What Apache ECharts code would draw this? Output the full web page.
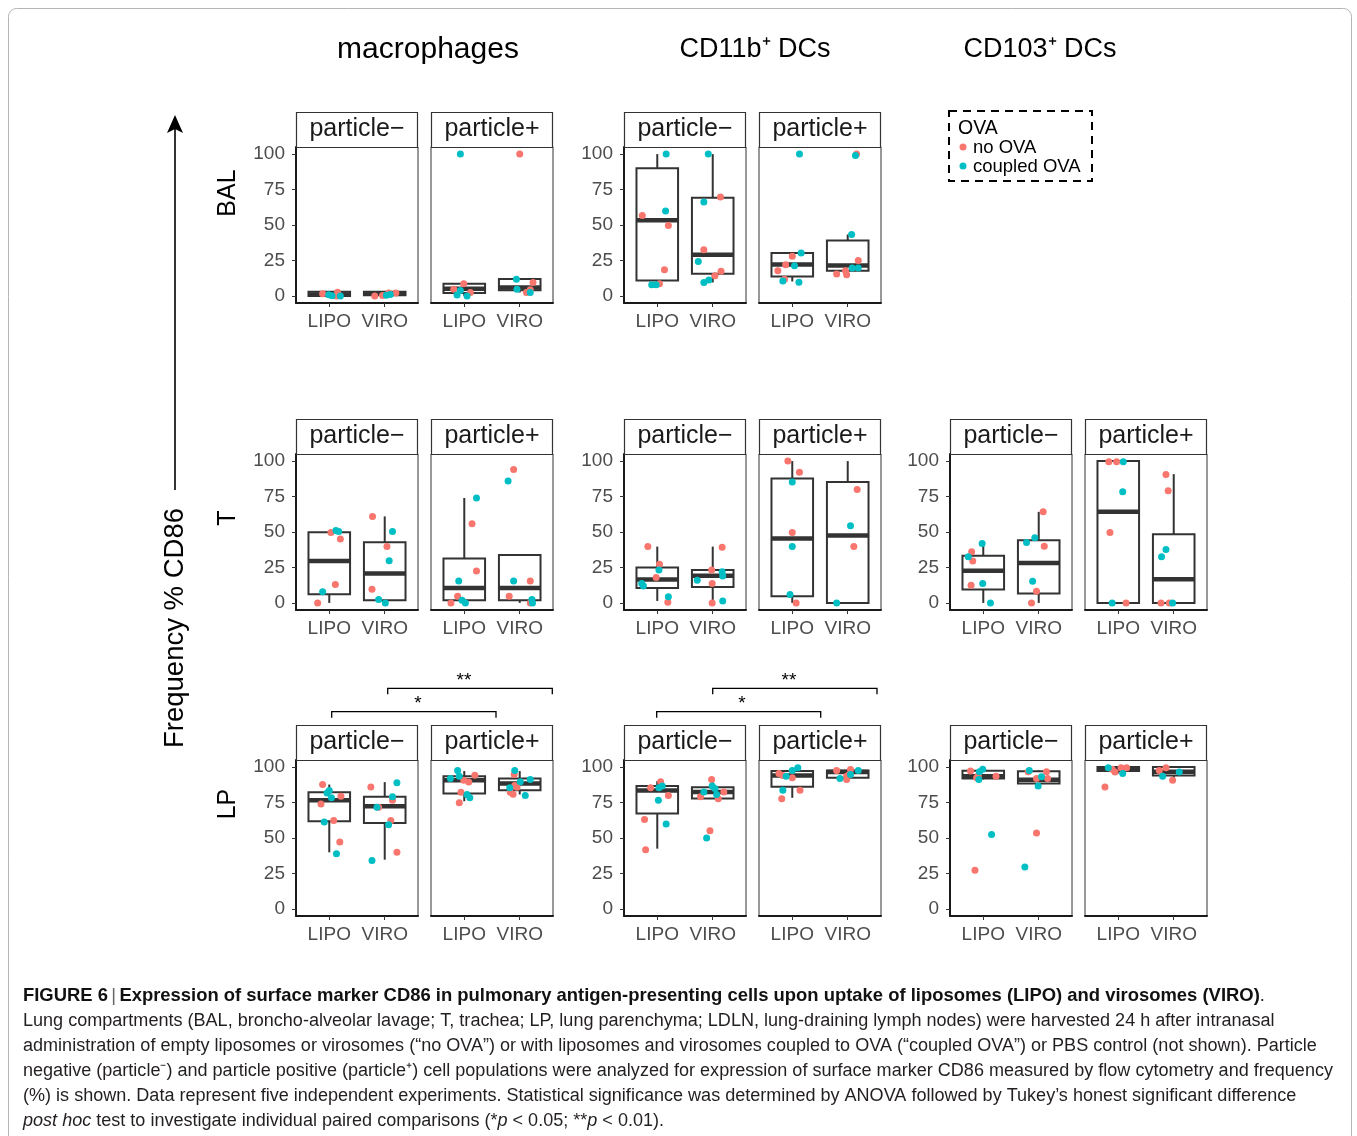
<!DOCTYPE html>
<html><head><meta charset="utf-8">
<script src="https://cdn.jsdelivr.net/npm/echarts@6/dist/echarts.min.js"></script>
<style>html,body{margin:0;padding:0;background:#fff}#c{width:1357px;height:1136px}</style>
</head><body><div id="c"></div>
<script>
// ---------- categories / labels ----------
const categories = ['LIPO', 'VIRO'];
const cellTypes = ['macrophages', 'CD11b\u207A DCs', 'CD103\u207A DCs'];
const compartments = ['BAL', 'T', 'LP'];
const particleLabels = ['particle\u2212', 'particle+'];
const yTicks = [0, 25, 50, 75, 100];
const legendTitle = 'OVA';
const legendNames = ['no OVA', 'coupled OVA'];

// ---------- data: box = [position, min, q1, median, q3, max]; points = [jittered position, value] ----------
// BAL
const balMacNegBox = [[1, 0, 0, 1, 3, 3], [2, 0, 0.5, 1.5, 3, 3]];
const balMacNegNo = [[0.88, 1.5], [1.15, 2.6], [1.13, 0], [1.82, 0], [1.96, 0.3], [2.07, 2], [2.2, 2]];
const balMacNegCoupled = [[0.99, 0.8], [1.05, 0.2], [1.2, 0], [2.03, 0.4], [2.1, 1]];
const balMacPosBox = [[1, 0, 2, 5, 8.5, 8.5], [2, 2.4, 4, 6, 12, 12]];
const balMacPosNo = [[0.81, 4.7], [0.99, 8.5], [1.11, 2.4], [2.0, 100], [2.24, 9.5], [2.12, 2.4], [2.19, 4.3]];
const balMacPosCoupled = [[0.93, 100], [0.87, 0.7], [0.93, 3.8], [1.05, 0], [1.94, 11.8], [1.95, 4.7], [2.19, 2.4]];
const balCd11bNegBox = [[1, 7.8, 10.9, 53.4, 90, 100], [2, 9.5, 15.6, 29.1, 69.3, 100]];
const balCd11bNegNo = [[0.73, 56.7], [1.2, 49.6], [1.13, 18.4], [1.04, 8.5], [2.14, 69.7], [1.84, 32.6], [2.15, 17.3], [2.04, 14.2]];
const balCd11bNegCoupled = [[1.16, 100], [1.15, 59.8], [0.9, 7.8], [0.98, 7.8], [1.92, 100], [1.84, 66.2], [1.74, 24.3], [1.93, 11.3], [1.84, 9.5]];
const balCd11bPosBox = [[1, 10.2, 13.7, 22.2, 30.3, 30.3], [2, 14.9, 17.7, 21.5, 39, 43.3]];
const balCd11bPosNo = [[1.0, 27.9], [0.88, 22], [0.74, 17.7], [0.86, 11.8], [2.16, 100], [2.19, 25], [1.8, 15.4], [1.98, 14.9], [1.96, 17.7]];
const balCd11bPosCoupled = [[1.13, 100], [1.16, 30.3], [1.04, 21.3], [0.83, 10.6], [1.12, 9.7], [2.14, 99], [2.07, 43.3], [2.08, 19.6], [2.19, 19.6]];
// T
const tMacNegBox = [[1, 0, 6.1, 29.6, 49.9, 50.4], [2, 0, 1.9, 20.8, 42.8, 61]];
const tMacNegNo = [[0.79, 0], [1.11, 13], [1.03, 49.6], [1.2, 45], [1.78, 61], [2.04, 39.7], [1.77, 9.7]];
const tMacNegCoupled = [[0.88, 7.8], [1.12, 51], [1.17, 50.4], [2.14, 50.4], [2.08, 29.8], [1.89, 2.4], [2.01, 0]];
const tMacPosBox = [[1, 0, 1.9, 10.6, 31.4, 74], [2, 0, 1.9, 10.6, 33.8, 33.8]];
const tMacPosNo = [[1.14, 55.8], [1.22, 22.5], [0.88, 4.7], [0.76, 0], [1.89, 94], [2.19, 15.4], [1.81, 4.7], [2.19, 0]];
const tMacPosCoupled = [[1.22, 74], [0.9, 15.4], [0.96, 1.9], [1.02, 0], [1.79, 86], [1.89, 15.4], [2.22, 2.4], [2.23, 0]];
const tCd11bNegBox = [[1, 1.4, 10.6, 16.5, 25, 39.7], [2, 0, 11.3, 19.1, 23.2, 39.7]];
const tCd11bNegNo = [[0.83, 39.7], [1.04, 27.2], [0.98, 18], [1.19, 0.5], [2.17, 39.2], [1.98, 23.2], [1.99, 13.7], [1.99, 0]];
const tCd11bNegCoupled = [[1.03, 23.2], [0.72, 13.7], [0.75, 12], [1.2, 4.3], [2.17, 22], [2.18, 18.9], [1.72, 16], [2.18, 1.4]];
const tCd11bPosBox = [[1, 0, 4.7, 45.4, 87.7, 100], [2, 0, 0, 47.5, 85.3, 100]];
const tCd11bPosNo = [[0.92, 100], [1.13, 92.2], [1.0, 49.6], [1.07, 0], [2.17, 79.9], [2.11, 39.7]];
const tCd11bPosCoupled = [[1.0, 85.3], [1.0, 39.7], [0.96, 5.9], [2.05, 54.4], [1.8, 0]];
const tCd103NegBox = [[1, 0, 9.4, 22.6, 33.2, 41.9], [2, 0, 6.6, 28.2, 44.2, 64.2]];
const tCd103NegNo = [[0.79, 36], [0.81, 29.6], [0.78, 12.5], [2.08, 64.2], [2.1, 40], [1.96, 8.2], [1.87, 0]];
const tCd103NegCoupled = [[0.98, 41.9], [0.73, 32.5], [0.99, 13.6], [1.13, 0], [1.93, 46], [1.78, 42.6], [1.89, 15.3]];
const tCd103PosBox = [[1, 0, 0, 64.2, 100, 100], [2, 0, 0, 16.7, 48.5, 90.8]];
const tCd103PosNo = [[0.83, 99.5], [0.97, 99.5], [0.85, 49.6], [1.14, 0], [1.86, 90.6], [1.9, 79], [1.77, 0], [1.92, 0]];
const tCd103PosCoupled = [[1.09, 99.5], [1.08, 78.4], [0.89, 0], [1.86, 37.6], [1.78, 32.5], [1.98, 0]];
// LP
const lpMacNegBox = [[1, 39.9, 61.8, 76.7, 82.3, 87.7], [2, 34.7, 60.6, 72.4, 79, 89.4]];
const lpMacNegNo = [[0.88, 87.7], [1.21, 79.5], [0.85, 74], [1.08, 62.3], [1.19, 47.2], [1.75, 86], [2.14, 76.7], [1.89, 71.7], [2.11, 62.3], [2.22, 39.9]];
const lpMacNegCoupled = [[1.0, 83.5], [0.96, 81.8], [1.04, 78.3], [0.91, 61.3], [1.13, 38.9], [2.22, 88.9], [2.14, 79], [1.86, 71.7], [2.07, 59.4], [1.77, 34.2]];
const lpMacPosBox = [[1, 75.9, 81.4, 90.8, 93.6, 97.2], [2, 80.7, 83.7, 88.4, 92, 97.2]];
const lpMacPosNo = [[1.19, 94.3], [0.99, 90.8], [1.08, 89.4], [0.94, 82.3], [0.91, 74.8], [1.9, 94.8], [1.91, 87], [1.95, 85.8], [1.83, 82.3], [1.88, 80.9]];
const lpMacPosCoupled = [[0.88, 97.6], [0.91, 93.6], [0.75, 92], [1.05, 80.7], [1.1, 78.3], [1.91, 97.6], [2.19, 91.3], [2.01, 89.6], [1.82, 85.4], [2.1, 80]];
const lpCd11bNegBox = [[1, 42.5, 67.2, 83.5, 86.6, 90.1], [2, 77.6, 77.8, 82.5, 85.8, 91.3]];
const lpCd11bNegNo = [[1.06, 89.6], [0.88, 85.4], [1.2, 80], [0.77, 63], [0.79, 41.7], [1.98, 91.3], [2.2, 82.5], [1.78, 79], [2.1, 77.6], [1.95, 55.2]];
const lpCd11bNegCoupled = [[1.09, 86.6], [1.03, 85.4], [1.02, 76.7], [1.16, 59.9], [1.99, 86.6], [2.04, 84.9], [1.84, 82.5], [2.07, 80.7], [1.89, 50]];
const lpCd11bPosBox = [[1, 78.3, 86.1, 94.1, 97.2, 99.5], [2, 91.3, 92.5, 96.5, 97.6, 98.3]];
const lpCd11bPosNo = [[0.76, 95.5], [0.83, 94.1], [1.0, 92.5], [1.14, 83.7], [0.81, 77.6], [1.8, 97.6], [2.05, 98.3], [1.98, 93.6], [1.98, 91.3], [2.02, 94.5]];
const lpCd11bPosCoupled = [[1.1, 99.5], [1.0, 97.6], [0.89, 93.6], [0.83, 83.7], [2.19, 97.6], [1.86, 92], [2.05, 94.8]];
const lpCd103NegBox = [[1, 91.3, 92, 93.5, 97.5, 98.4], [2, 86.6, 88.5, 91, 97, 97.6]];
const lpCd103NegNo = [[0.77, 97.2], [0.91, 94.1], [0.88, 92.5], [1.23, 93.6], [0.85, 27.3], [1.81, 96.7], [2.14, 96.7], [1.96, 92], [2.16, 92], [1.96, 53.6]];
const lpCd103NegCoupled = [[0.99, 98.4], [0.93, 96.7], [0.92, 91.3], [1.15, 52.5], [1.83, 97.6], [2.05, 93.2], [1.99, 86.6], [1.75, 29.6]];
const lpCd103PosBox = [[1, 95.5, 97.2, 99, 100, 100], [2, 90.8, 94.1, 96.7, 100, 100]];
const lpCd103PosNo = [[1.05, 99.5], [1.15, 99.5], [0.89, 98.4], [0.94, 96.5], [0.76, 85.9], [1.86, 99.5], [1.74, 97.6], [1.98, 90.8]];
const lpCd103PosCoupled = [[0.82, 99.5], [1.08, 95.5], [2.1, 96.5], [1.8, 93.6]];

// significance annotations
const sigLabels = ['*', '**'];

// caption
const captionBoldA = 'FIGURE 6';
const captionBoldB = 'Expression of surface marker CD86 in pulmonary antigen-presenting cells upon uptake of liposomes (LIPO) and virosomes (VIRO)';
const captionLines = [
  'Lung compartments (BAL, broncho-alveolar lavage; T, trachea; LP, lung parenchyma; LDLN, lung-draining lymph nodes) were harvested 24 h after intranasal',
  'administration of empty liposomes or virosomes (\u201Cno OVA\u201D) or with liposomes and virosomes coupled to OVA (\u201Ccoupled OVA\u201D) or PBS control (not shown). Particle',
  'negative (particle\u207B) and particle positive (particle\u207A) cell populations were analyzed for expression of surface marker CD86 measured by flow cytometry and frequency',
  '(%) is shown. Data represent five independent experiments. Statistical significance was determined by ANOVA followed by Tukey\u2019s honest significant difference'
];

// ---------- layout ----------
const FONT = '"Liberation Sans", Arial, Helvetica, sans-serif';
const RED = '#F8766D', TEAL = '#00BFC4', LINE = '#333333';
const PANEL_W = 122, PANEL_H = 156, STRIP_H = 35;
const colLeft = [296, 431, 624, 759, 950, 1085];
const rowTop = [147, 454, 760];

const panels = [
  [0, 0, balMacNegBox, balMacNegNo, balMacNegCoupled],
  [0, 1, balMacPosBox, balMacPosNo, balMacPosCoupled],
  [0, 2, balCd11bNegBox, balCd11bNegNo, balCd11bNegCoupled],
  [0, 3, balCd11bPosBox, balCd11bPosNo, balCd11bPosCoupled],
  [1, 0, tMacNegBox, tMacNegNo, tMacNegCoupled],
  [1, 1, tMacPosBox, tMacPosNo, tMacPosCoupled],
  [1, 2, tCd11bNegBox, tCd11bNegNo, tCd11bNegCoupled],
  [1, 3, tCd11bPosBox, tCd11bPosNo, tCd11bPosCoupled],
  [1, 4, tCd103NegBox, tCd103NegNo, tCd103NegCoupled],
  [1, 5, tCd103PosBox, tCd103PosNo, tCd103PosCoupled],
  [2, 0, lpMacNegBox, lpMacNegNo, lpMacNegCoupled],
  [2, 1, lpMacPosBox, lpMacPosNo, lpMacPosCoupled],
  [2, 2, lpCd11bNegBox, lpCd11bNegNo, lpCd11bNegCoupled],
  [2, 3, lpCd11bPosBox, lpCd11bPosNo, lpCd11bPosCoupled],
  [2, 4, lpCd103NegBox, lpCd103NegNo, lpCd103NegCoupled],
  [2, 5, lpCd103PosBox, lpCd103PosNo, lpCd103PosCoupled]
];

function renderBox(params, api) {
  const x = api.value(0);
  const pMin = api.coord([x, api.value(1)]);
  const pQ1 = api.coord([x, api.value(2)]);
  const pMed = api.coord([x, api.value(3)]);
  const pQ3 = api.coord([x, api.value(4)]);
  const pMax = api.coord([x, api.value(5)]);
  const l = api.coord([x - 0.375, 0])[0];
  const r = api.coord([x + 0.375, 0])[0];
  const ls = { stroke: LINE, lineWidth: 2 };
  return { type: 'group', children: [
    { type: 'line', shape: { x1: pMin[0], y1: pMin[1], x2: pQ1[0], y2: pQ1[1] }, style: ls },
    { type: 'line', shape: { x1: pQ3[0], y1: pQ3[1], x2: pMax[0], y2: pMax[1] }, style: ls },
    { type: 'rect', shape: { x: l, y: pQ3[1], width: r - l, height: pQ1[1] - pQ3[1] }, style: { fill: '#fff', stroke: LINE, lineWidth: 2 } },
    { type: 'line', shape: { x1: l, y1: pMed[1], x2: r, y2: pMed[1] }, style: { stroke: LINE, lineWidth: 4.5 } }
  ]};
}

const grids = [], xAxes = [], yAxes = [], series = [], graphics = [];
panels.forEach((p, i) => {
  const [r, c, box, no, cp] = p;
  const first = c % 2 === 0;
  const left = colLeft[c], top = rowTop[r];
  grids.push({ left, top, width: PANEL_W, height: PANEL_H, show: true, borderColor: LINE, borderWidth: 1, backgroundColor: 'transparent' });
  xAxes.push({
    gridIndex: i, type: 'value', min: 0.4, max: 2.6,
    axisLine: { show: true, onZero: false, lineStyle: { color: '#1a1a1a', width: 2 } },
    axisTick: { show: true, customValues: [1, 2], length: 4, lineStyle: { color: LINE, width: 1 } },
    axisLabel: { show: true, customValues: [1, 2], formatter: v => categories[Math.round(v) - 1], fontSize: 19, color: '#4D4D4D', fontFamily: FONT, margin: 9 },
    splitLine: { show: false }
  });
  yAxes.push({
    gridIndex: i, type: 'value', min: -5, max: 105,
    axisLine: { show: first, onZero: false, lineStyle: { color: '#1a1a1a', width: 2 } },
    axisTick: { show: first, customValues: yTicks, length: 4, lineStyle: { color: LINE, width: 1 } },
    axisLabel: { show: first, customValues: yTicks, fontSize: 19, color: '#4D4D4D', fontFamily: FONT, margin: 11 },
    splitLine: { show: false }
  });
  series.push({ type: 'custom', xAxisIndex: i, yAxisIndex: i, renderItem: renderBox, encode: { x: 0, y: [1, 2, 3, 4, 5] }, data: box, clip: false, z: 2, silent: true });
  series.push({ type: 'scatter', name: legendNames[0], xAxisIndex: i, yAxisIndex: i, data: no, symbolSize: 7, itemStyle: { color: RED, opacity: 1 }, z: 3, silent: true });
  series.push({ type: 'scatter', name: legendNames[1], xAxisIndex: i, yAxisIndex: i, data: cp, symbolSize: 7, itemStyle: { color: TEAL, opacity: 1 }, z: 3, silent: true });
  // strip
  graphics.push({ type: 'rect', shape: { x: left + 0.5, y: top - STRIP_H + 0.5, width: PANEL_W - 1, height: STRIP_H }, style: { fill: '#fff', stroke: LINE, lineWidth: 1.2 }, z: 10 });
  graphics.push({ type: 'text', x: left + PANEL_W / 2, y: top - STRIP_H / 2, style: { text: particleLabels[c % 2], fontSize: 25, fontFamily: FONT, fill: '#1A1A1A', align: 'center', verticalAlign: 'middle' }, z: 11 });
});

// column headers
const headerX = [428, 755, 1040];
const headerSize = [30, 27, 27];
cellTypes.forEach((t, k) => graphics.push({ type: 'text', x: headerX[k], y: 50, style: { text: t, fontSize: headerSize[k], fontFamily: FONT, fill: '#000', align: 'center', verticalAlign: 'middle' } }));
// row labels
const rowLabelY = [193, 518, 804];
compartments.forEach((t, k) => graphics.push({ type: 'text', x: 228, y: rowLabelY[k], rotation: Math.PI / 2, style: { text: t, fontSize: 25, fontFamily: FONT, fill: '#000', align: 'center', verticalAlign: 'middle' } }));
// y title with arrow
graphics.push({ type: 'text', x: 175, y: 628, rotation: Math.PI / 2, style: { text: 'Frequency % CD86', fontSize: 27.5, fontFamily: FONT, fill: '#000', align: 'center', verticalAlign: 'middle' } });
graphics.push({ type: 'line', shape: { x1: 175, y1: 490, x2: 175, y2: 126 }, style: { stroke: '#000', lineWidth: 1.6 } });
graphics.push({ type: 'polygon', shape: { points: [[175, 115], [167, 133], [175, 129], [183, 133]] }, style: { fill: '#000' } });
// legend
graphics.push({ type: 'rect', shape: { x: 949, y: 111, width: 143, height: 70 }, style: { fill: 'none', stroke: '#000', lineWidth: 2, lineDash: [8, 6] } });
graphics.push({ type: 'text', x: 958, y: 129, style: { text: legendTitle, fontSize: 19.5, fontFamily: FONT, fill: '#000', align: 'left', verticalAlign: 'middle' } });
graphics.push({ type: 'circle', shape: { cx: 963, cy: 147, r: 3.5 }, style: { fill: RED } });
graphics.push({ type: 'text', x: 973, y: 148, style: { text: legendNames[0], fontSize: 18.5, fontFamily: FONT, fill: '#000', align: 'left', verticalAlign: 'middle' } });
graphics.push({ type: 'circle', shape: { cx: 963, cy: 166, r: 3.5 }, style: { fill: TEAL } });
graphics.push({ type: 'text', x: 973, y: 167, style: { text: legendNames[1], fontSize: 18.5, fontFamily: FONT, fill: '#000', align: 'left', verticalAlign: 'middle' } });
// significance brackets
function bracket(x1, x2, y, label, tx, ty) {
  graphics.push({ type: 'polyline', shape: { points: [[x1, y + 6], [x1, y], [x2, y], [x2, y + 6]] }, style: { stroke: '#000', lineWidth: 1.3, fill: 'none' } });
  graphics.push({ type: 'text', x: tx, y: ty, style: { text: label, fontSize: 19, fontFamily: FONT, fill: '#000', align: 'center', verticalAlign: 'middle' } });
}
bracket(331.7, 496, 711.7, sigLabels[0], 418, 704);
bracket(387.7, 552.3, 688.3, sigLabels[1], 464, 681);
bracket(656.7, 820.7, 711.7, sigLabels[0], 742, 704);
bracket(712.7, 877, 688.3, sigLabels[1], 789, 681);
// frame
graphics.push({ type: 'rect', shape: { x: 8.5, y: 8.5, width: 1343, height: 1160, r: 8 }, style: { fill: 'none', stroke: '#B5B5B5', lineWidth: 1 }, z: -1 });

// caption, fitted to measured widths
const mctx = document.createElement('canvas').getContext('2d');
function tw(text, font) { mctx.font = font; return mctx.measureText(text).width; }
const capSize = 17 * (1276 - 23) / tw(captionLines[0], '17px "Liberation Sans"');
const boldSize = 17 * (1270 - 23) / tw(captionBoldA + ' | ' + captionBoldB + '.', 'bold 17px "Liberation Sans"');
const capY = [996, 1021, 1046, 1071, 1096, 1121];
graphics.push({ type: 'text', x: 23, y: capY[0], style: {
  text: '{b|' + captionBoldA + '} {s||} {b|' + captionBoldB + '}{n|.}', align: 'left', verticalAlign: 'middle',
  rich: { b: { fontSize: boldSize, fontWeight: 'bold', fontFamily: FONT, fill: '#111' }, s: { fontSize: boldSize, fontFamily: FONT, fill: '#666' }, n: { fontSize: boldSize, fontFamily: FONT, fill: '#222' } }
} });
captionLines.forEach((t, k) => graphics.push({ type: 'text', x: 23, y: capY[k + 1], style: { text: t, fontSize: capSize, fontFamily: FONT, fill: '#231F20', align: 'left', verticalAlign: 'middle' } }));
graphics.push({ type: 'text', x: 23, y: capY[5], style: {
  text: '{i|post hoc}{n| test to investigate individual paired comparisons (*}{i|p}{n| < 0.05; **}{i|p}{n| < 0.01).}', align: 'left', verticalAlign: 'middle',
  rich: { i: { fontSize: capSize, fontStyle: 'italic', fontFamily: FONT, fill: '#231F20' }, n: { fontSize: capSize, fontFamily: FONT, fill: '#231F20' } }
} });

const chart = echarts.init(document.getElementById('c'), null, { renderer: 'canvas', width: 1357, height: 1136 });
chart.setOption({
  animation: false,
  backgroundColor: '#fff',
  grid: grids, xAxis: xAxes, yAxis: yAxes, series,
  graphic: { elements: graphics }
});
</script></body></html>
